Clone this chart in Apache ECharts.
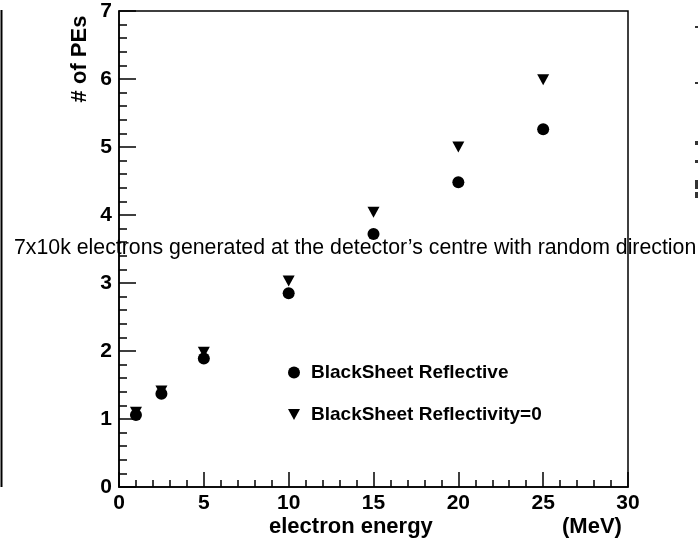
<!DOCTYPE html>
<html>
<head>
<meta charset="utf-8">
<script src="https://cdn.jsdelivr.net/npm/echarts@6/dist/echarts.min.js"></script>
<style>
  html, body { margin: 0; padding: 0; background: #fff; }
  #chart { width: 698px; height: 541px; }
</style>
</head>
<body>
<div id="chart"></div>
<script>
// Electron energy (MeV) and mean number of photoelectrons per configuration
const energies = [1, 2.5, 5, 10, 15, 20, 25];
const reflective = [1.06, 1.37, 1.89, 2.85, 3.72, 4.48, 5.26];
const reflectivity0 = [1.10, 1.41, 1.98, 3.03, 4.04, 5.00, 5.99];
const seriesNames = ['BlackSheet Reflective', 'BlackSheet Reflectivity=0'];
const xTitle = 'electron energy';
const xUnit = '(MeV)';
const yTitle = '# of PEs';
const note = '7x10k electrons generated at the detector\u2019s centre with random direction';

const FONT = "'Liberation Sans', Arial, Helvetica, sans-serif";
const downTriangle = 'path://M0,0 L12,0 L6,11 Z';

const pairs = (ys) => energies.map((x, i) => [x, ys[i]]);

const chart = echarts.init(document.getElementById('chart'), null, { renderer: 'canvas' });

const axisCommon = {
  axisLine: { show: true, lineStyle: { color: '#000', width: 1.5 } },
  splitLine: { show: false },
  axisLabel: { color: '#000', fontFamily: FONT, fontWeight: 'bold', fontSize: 21 },
};

// clipped pieces of the neighbouring panel at the right edge
const edgeBits = [[26, 2], [82, 2], [141, 4], [160, 3], [180, 9], [192, 6]].map(([y, h]) => ({
  type: 'rect', shape: { x: 695, y: y, width: 3, height: h }, style: { fill: '#333' }
}));

chart.setOption({
  animation: false,
  backgroundColor: '#fff',
  grid: {
    left: 119, right: 70, top: 11, bottom: 54,
    show: true, borderColor: '#000', borderWidth: 1.5, backgroundColor: 'transparent'
  },
  xAxis: Object.assign({}, axisCommon, {
    type: 'value', min: 0, max: 30, interval: 5,
    axisTick: { show: true, inside: true, length: 15, lineStyle: { color: '#000', width: 1.5 } },
    minorTick: { show: true, splitNumber: 5, length: 7, lineStyle: { color: '#000', width: 1.5 } },
    axisLabel: Object.assign({}, axisCommon.axisLabel, { margin: 6 })
  }),
  yAxis: Object.assign({}, axisCommon, {
    type: 'value', min: 0, max: 7, interval: 1,
    axisTick: { show: true, inside: true, length: 17, lineStyle: { color: '#000', width: 1.5 } },
    minorTick: { show: true, splitNumber: 5, length: 8, lineStyle: { color: '#000', width: 1.5 } },
    axisLabel: Object.assign({}, axisCommon.axisLabel, { margin: 7 })
  }),
  legend: [
    {
      data: [seriesNames[0]], left: 283, top: 358, orient: 'vertical',
      itemWidth: 12, itemHeight: 12, itemGap: 0,
      textStyle: { color: '#000', fontFamily: FONT, fontWeight: 'bold', fontSize: 19, padding: [0, 0, 0, 6] }
    },
    {
      data: [seriesNames[1]], left: 283, top: 400, orient: 'vertical',
      itemWidth: 12, itemHeight: 11, itemGap: 0,
      textStyle: { color: '#000', fontFamily: FONT, fontWeight: 'bold', fontSize: 19, padding: [0, 0, 0, 6] }
    }
  ],
  series: [
    {
      name: seriesNames[0], type: 'scatter', data: pairs(reflective),
      symbol: 'circle', symbolSize: 12,
      itemStyle: { color: '#000', opacity: 1 }, z: 3
    },
    {
      name: seriesNames[1], type: 'scatter', data: pairs(reflectivity0),
      symbol: downTriangle, symbolSize: [12, 11],
      itemStyle: { color: '#000', opacity: 1 }, z: 3
    }
  ],
  graphic: [
    // axis titles
    { type: 'text', left: 269, top: 516,
      style: { text: xTitle, font: "bold 22px " + FONT, fill: '#000' } },
    { type: 'text', left: 562, top: 516,
      style: { text: xUnit, font: "bold 22px " + FONT, fill: '#000' } },
    { type: 'text', x: 80, y: 59, rotation: Math.PI / 2,
      style: { text: yTitle, font: "bold 22px " + FONT, fill: '#000', align: 'center', verticalAlign: 'middle' } },
    // caption running across the plot
    { type: 'text', left: 14, top: 238, z: 10,
      style: { text: note, font: "21.3px " + FONT, fill: '#000' } },
    // frame edge of the neighbouring panel
    { type: 'line', shape: { x1: 1.5, y1: 10, x2: 1.5, y2: 487 },
      style: { stroke: '#000', lineWidth: 2 } }
  ].concat(edgeBits)
});
</script>
</body>
</html>
